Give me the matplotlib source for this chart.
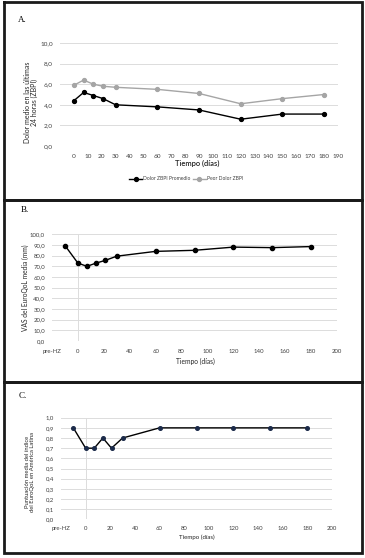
import matplotlib
matplotlib.use("Agg")
import matplotlib.pyplot as plt
from matplotlib.lines import Line2D
from matplotlib.ticker import FuncFormatter

# ---------------- data ----------------
days_a = [0, 7, 14, 21, 30, 60, 90, 120, 150, 180]
dolor_promedio = [4.4, 5.2, 4.9, 4.6, 4.0, 3.8, 3.5, 2.6, 3.1, 3.1]
peor_dolor = [5.9, 6.4, 6.0, 5.8, 5.7, 5.5, 5.1, 4.1, 4.6, 5.0]
series_a_names = ["Dolor ZBPI Promedio", "Peor Dolor ZBPI"]
xticks_a = list(range(0, 200, 10))
yticks_a = [0, 2, 4, 6, 8, 10]

days_b = [-10, 0, 7, 14, 21, 30, 60, 90, 120, 150, 180]
vas_media = [89.5, 73.0, 70.0, 73.0, 75.5, 79.5, 84.0, 85.0, 88.0, 87.5, 88.5]
yticks_b = list(range(0, 101, 10))

days_c = [-10, 0, 7, 14, 21, 30, 60, 90, 120, 150, 180]
indice_media = [0.9, 0.7, 0.7, 0.8, 0.7, 0.8, 0.9, 0.9, 0.9, 0.9, 0.9]
yticks_c = [i / 10 for i in range(11)]

xticks_bc = [-20, 0, 20, 40, 60, 80, 100, 120, 140, 160, 180, 200]
xticklabels_bc = ["pre-HZ"] + [str(v) for v in xticks_bc[1:]]

# ---------------- layout helpers ----------------
W, H = 365, 558
fig = plt.figure(figsize=(W / 100, H / 100), dpi=100)
fig.patch.set_facecolor("white")
FONT = ["Lato", "DejaVu Sans"]
plt.rcParams["font.family"] = FONT


def px_axes(x0, y0, x1, y1):
    return fig.add_axes([x0 / W, 1 - y1 / H, (x1 - x0) / W, (y1 - y0) / H])


def fx(x):
    return x / W


def fy(y):
    return 1 - y / H


def comma_fmt(dec):
    return FuncFormatter(lambda v, p: f"{v:.{dec}f}".replace(".", ","))


GRID = "#dcdcdc"


def style(ax, size=4.3):
    for s in ax.spines.values():
        s.set_visible(False)
    ax.grid(axis="y", color=GRID, linewidth=0.7)
    ax.set_axisbelow(True)
    ax.tick_params(length=0, labelsize=size, colors="#404040", pad=5)


# ---------------- borders ----------------
bw = 2.0
for (x0, y0, x1, y1) in [(4, 2, 362, 200), (4, 200, 362, 382), (4, 382, 362, 553)]:
    xs = [fx(x0), fx(x1), fx(x1), fx(x0), fx(x0)]
    ys = [fy(y0), fy(y0), fy(y1), fy(y1), fy(y0)]
    fig.add_artist(Line2D(xs, ys, color="#1a1a1a", linewidth=bw, transform=fig.transFigure,
                          solid_joinstyle="miter"))

# ---------------- panel letters ----------------
for lab, (x, y) in zip(["A.", "B.", "C."], [(18, 20), (21, 210), (19, 396)]):
    fig.text(fx(x), fy(y), lab, fontsize=6.5, family="Liberation Serif", va="center", ha="left")

# ---------------- panel A ----------------
axA = px_axes(60, 43, 338, 146)
style(axA, 4.6)
axA.plot(days_a, dolor_promedio, color="black", lw=1.0, marker="o", ms=2.8,
         label=series_a_names[0])
axA.plot(days_a, peor_dolor, color="#a5a5a5", lw=1.0, marker="o", ms=2.8,
         label=series_a_names[1])
axA.set_xlim(-10, 190)
axA.set_ylim(0, 10)
axA.set_yticks(yticks_a)
axA.set_xticks(xticks_a)
axA.yaxis.set_major_formatter(comma_fmt(1))
axA.tick_params(axis="x", pad=6)
fig.text(fx(197), fy(163), "Tiempo (días)", fontsize=5.5, ha="center", va="center",
         color="#262626", weight="semibold")
fig.text(fx(31), fy(102), "Dolor medio en las últimas\n24 horas (ZBPI)", fontsize=5.0,
         rotation=90, ha="center", va="center", color="#262626", linespacing=1.1)
fig.legend(*axA.get_legend_handles_labels(), loc="center", bbox_to_anchor=(fx(186), fy(179)),
           ncol=2, frameon=False, fontsize=3.6, handlelength=2.6, columnspacing=0.4,
           handletextpad=0.2, labelcolor="#404040")

# ---------------- panel B ----------------
axB = px_axes(52, 234.3, 337, 341)
style(axB)
axB.axvline(0, color=GRID, lw=0.7, zorder=0)
axB.plot(days_b, vas_media, color="black", lw=1.0, marker="o", ms=3.0)
axB.set_xlim(-20, 200)
axB.set_ylim(0, 100)
axB.set_yticks(yticks_b)
axB.set_xticks(xticks_bc)
axB.set_xticklabels(xticklabels_bc)
axB.yaxis.set_major_formatter(comma_fmt(1))
axB.tick_params(axis="x", pad=6)
fig.text(fx(195), fy(361), "Tiempo (días)", fontsize=4.8, ha="center", va="center",
         color="#262626")
fig.text(fx(25), fy(288), "VAS del EuroQoL media (mm)", fontsize=4.8,
         rotation=90, ha="center", va="center", color="#262626")

# ---------------- panel C ----------------
axC = px_axes(61, 417.7, 332, 519.3)
style(axC)
axC.axvline(0, color=GRID, lw=0.7, zorder=0)
axC.plot(days_c, indice_media, color="black", lw=1.0, marker="o", ms=2.6,
         markerfacecolor="#1c2b4a", markeredgecolor="#1c2b4a")
axC.set_xlim(-20, 200)
axC.set_ylim(0, 1.0)
axC.set_yticks(yticks_c)
axC.set_xticks(xticks_bc)
axC.set_xticklabels(xticklabels_bc)
axC.yaxis.set_major_formatter(comma_fmt(1))
axC.tick_params(axis="x", pad=5)
fig.text(fx(197), fy(537), "Tiempo (días)", fontsize=4.4, ha="center", va="center",
         color="#262626")
fig.text(fx(30), fy(472), "Puntuación media del índice\ndel EuroQoL en América Latina",
         fontsize=4.2, rotation=90, ha="center", va="center", color="#262626",
         linespacing=1.1)

fig.savefig("out.png", dpi=100)
